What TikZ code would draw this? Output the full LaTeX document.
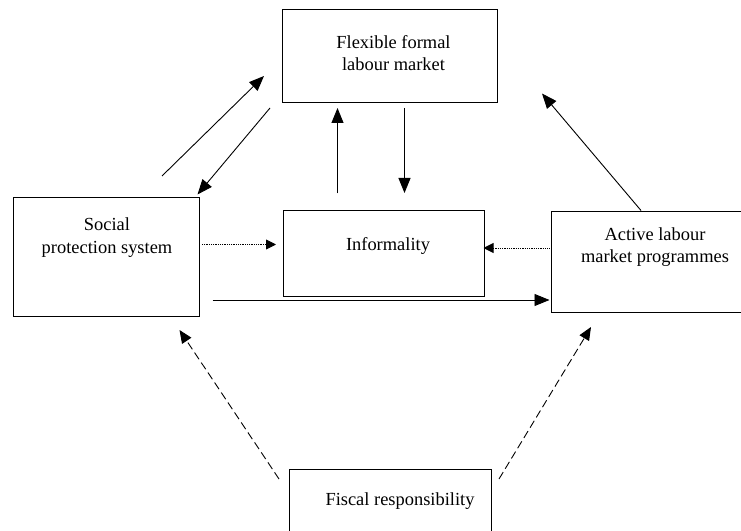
\documentclass[tikz,border=0pt]{standalone}
\usepackage{fontspec}
\setmainfont{Liberation Serif}
\usetikzlibrary{arrows.meta}
\begin{document}
\begin{tikzpicture}[x=1bp,y=-1bp,
  box/.style={draw, line width=1bp, rectangle, inner sep=0pt},
  txt/.style={align=center, inner sep=0pt, font=\fontsize{18.5}{22.5}\selectfont},
  solidarr/.style={line width=0.9bp, -{Triangle[length=15bp,width=12bp]}},
  dotarr/.style={line width=0.9bp, dash pattern=on 1bp off 0.8bp, -{Triangle[length=10bp,width=10bp]}},
  dasharr/.style={line width=0.9bp, dash pattern=on 8bp off 4bp, -{Triangle[length=13bp,width=11bp]}}]
\useasboundingbox (0,0) rectangle (741,531);
% boxes
\node[box, minimum width=215bp, minimum height=93bp] (flex) at (390,56.5) {};
\node[box, minimum width=185bp, minimum height=118bp] (soc) at (106.5,257) {};
\node[box, minimum width=201bp, minimum height=85bp] (inf) at (383.5,253.5) {};
\node[box, minimum width=209bp, minimum height=101bp] (act) at (655.5,262) {};
\node[box, minimum width=202bp, minimum height=64bp] (fis) at (390,501) {};
% texts
\node[txt] (flext) at (393.5,53) {Flexible formal\\labour market};
\node[txt] (soct) at (107,237.5) {Social\\protection system};
\node[txt] (inft) at (388,246) {Informality};
\node[txt] (actt) at (655,247) {Active labour\\market programmes};
\node[txt] (fist) at (400,501) {Fiscal responsibility};
% connector end points
\coordinate (a1) at (162,176);   \coordinate (a2) at (264,76);
\coordinate (b1) at (270,108);   \coordinate (b2) at (197.5,194.5);
\coordinate (c1) at (337.5,193.5); \coordinate (c2) at (337.5,108);
\coordinate (d1) at (404.5,108); \coordinate (d2) at (404.5,193);
\coordinate (e1) at (641,210.5); \coordinate (e2) at (542,93.5);
\coordinate (f1) at (202,244.5); \coordinate (f2) at (276,244.5);
\coordinate (g1) at (549.5,248); \coordinate (g2) at (483.5,248);
\coordinate (h1) at (212.5,300); \coordinate (h2) at (549.5,300);
\coordinate (i1) at (279,479);   \coordinate (i2) at (179.5,330);
\coordinate (j1) at (499,479);   \coordinate (j2) at (591,327);
% connectors
\draw[solidarr] (a1) -- (a2);
\draw[solidarr] (b1) -- (b2);
\draw[solidarr] (c1) -- (c2);
\draw[solidarr] (d1) -- (d2);
\draw[solidarr] (e1) -- (e2);
\draw[dotarr] (f1) -- (f2);
\draw[dotarr] (g1) -- (g2);
\draw[solidarr] (h1) -- (h2);
\draw[dasharr] (i1) -- (i2);
\draw[dasharr] (j1) -- (j2);
\end{tikzpicture}
\end{document}
